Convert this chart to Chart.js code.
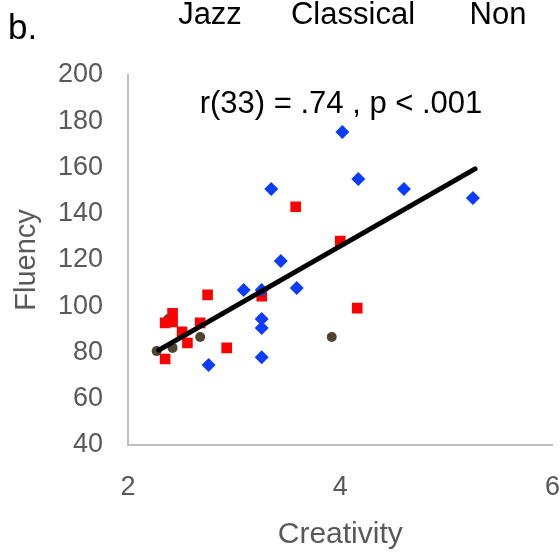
<!DOCTYPE html>
<html>
<head>
<meta charset="utf-8">
<script src="https://cdn.jsdelivr.net/npm/chart.js@4"></script>
<style>
  html, body { margin: 0; padding: 0; background: #fff; }
  #wrap { width: 560px; height: 553px; position: relative; }
</style>
</head>
<body>
<div id="wrap"><canvas id="myChart" width="560" height="553"></canvas></div>
<script>
// values
const classicalX = [4.02, 4.17, 4.60, 5.25, 3.35, 3.44, 3.09, 3.26, 3.59, 3.26, 3.26, 3.26, 2.76];
const classicalY = [175.4, 155, 150.7, 146.8, 150.7, 119.6, 107, 107, 107.9, 94.5, 90.6, 78, 74.6];

const jazzX = [3.58, 4.00, 4.16, 3.26, 2.75, 2.93, 2.68, 2.42, 2.42, 2.35, 2.51, 2.56, 2.35];
const jazzY = [143, 128.2, 99.2, 104.4, 104.9, 82, 92.8, 97, 93.2, 92.8, 88.9, 84.1, 77.2];

const nonX = [3.92, 2.68, 2.38, 2.27, 2.42];
const nonY = [86.7, 86.7, 94.5, 80.6, 82];

// fit line endpoints
const trendX = [2.29, 5.27];
const trendY = [81, 159.4];

const groupLabels = ['Jazz', 'Classical', 'Non'];
const statText = 'r(33) = .74 , p < .001';
const panelLabel = 'b.';

const toPoints = (xs, ys) => xs.map((x, i) => ({ x: x, y: ys[i] }));

const grey = '#595959';
const font = 'Helvetica, "Liberation Sans", Arial, sans-serif';

// header texts and the stat note
const textPlugin = {
  id: 'texts',
  afterDraw(chart) {
    const ctx = chart.ctx;
    ctx.save();
    ctx.fillStyle = '#000';
    ctx.textBaseline = 'alphabetic';
    ctx.font = '35px ' + font;
    ctx.textAlign = 'left';
    ctx.fillText(panelLabel, 8, 39);
    ctx.font = '31px ' + font;
    ctx.textAlign = 'center';
    const cx = [210, 353, 498];
    groupLabels.forEach((t, i) => ctx.fillText(t, cx[i], 24));
    ctx.font = '31px ' + font;
    ctx.fillText(statText, 341, 113);
    ctx.restore();
  }
};

var ctx = document.getElementById('myChart').getContext('2d');

new Chart(ctx, {
  type: 'scatter',
  data: {
    datasets: [
      {
        type: 'line',
        label: 'fit',
        data: toPoints(trendX, trendY),
        borderColor: '#000',
        borderWidth: 5,
        borderCapStyle: 'round',
        pointRadius: 0,
        fill: false
      },
      {
        label: 'Classical',
        data: toPoints(classicalX, classicalY),
        pointStyle: 'rectRot',
        pointRadius: 7,
        backgroundColor: '#0a3cff',
        borderWidth: 0
      },
      {
        label: 'Jazz',
        data: toPoints(jazzX, jazzY),
        pointStyle: 'rect',
        pointRadius: 7.5,
        backgroundColor: '#ff0000',
        borderWidth: 0
      },
      {
        label: 'Non',
        data: toPoints(nonX, nonY),
        pointStyle: 'circle',
        pointRadius: 5,
        backgroundColor: '#4b4531',
        borderWidth: 0
      }
    ]
  },
  options: {
    responsive: false,
    animation: false,
    layout: { padding: { top: 75, right: 7, left: 0, bottom: 0 } },
    plugins: {
      legend: { display: false },
      tooltip: { enabled: false }
    },
    scales: {
      x: {
        type: 'linear',
        min: 2,
        max: 6,
        ticks: { stepSize: 2, color: grey, font: { size: 27, family: font }, padding: 18 },
        grid: { display: false },
        border: { display: true, color: '#c0c0c0', width: 2 },
        title: { display: true, text: 'Creativity', color: grey, font: { size: 30, family: font }, padding: { top: 10, bottom: 0 } },
        afterFit(scale) {
          scale.height = 108;
          scale.paddingLeft = 0;
          scale.paddingRight = 0;
        }
      },
      y: {
        min: 40,
        max: 200,
        ticks: { stepSize: 20, color: grey, font: { size: 27, family: font }, padding: 17 },
        grid: { display: false },
        border: { display: true, color: '#c0c0c0', width: 2 },
        title: { display: true, text: 'Fluency', color: grey, font: { size: 29, family: font }, padding: { top: 10, bottom: 0 } },
        afterFit(scale) {
          scale.width = 128;
          scale.paddingTop = 0;
          scale.paddingBottom = 0;
        }
      }
    }
  },
  plugins: [textPlugin]
});
</script>
</body>
</html>
